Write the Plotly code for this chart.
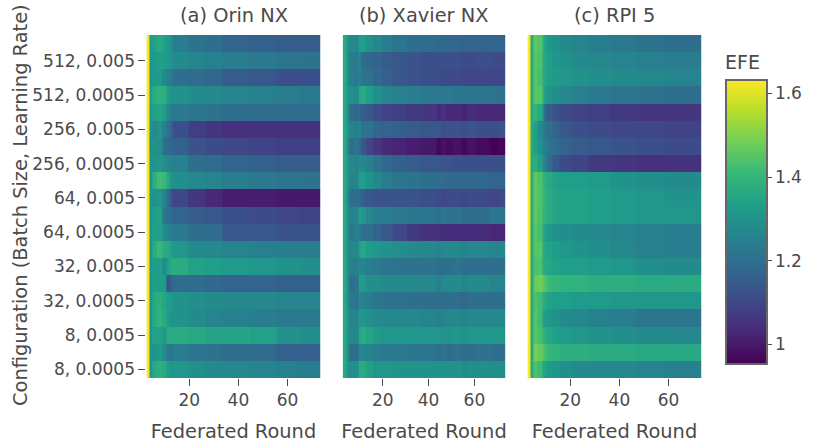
import plotly.graph_objects as go

# Rows listed top to bottom
configs = ["512, 0.01", "512, 0.005", "512, 0.001", "512, 0.0005",
           "256, 0.01", "256, 0.005", "256, 0.001", "256, 0.0005",
           "64, 0.01", "64, 0.005", "64, 0.001", "64, 0.0005",
           "32, 0.01", "32, 0.005", "32, 0.001", "32, 0.0005",
           "8, 0.01", "8, 0.005", "8, 0.001", "8, 0.0005"]
y_ticks = ["512, 0.005", "512, 0.0005", "256, 0.005", "256, 0.0005", "64, 0.005",
           "64, 0.0005", "32, 0.005", "32, 0.0005", "8, 0.005", "8, 0.0005"]
x_ticks = [20, 40, 60]
efe_ticks = [1, 1.2, 1.4, 1.6]
titles = ["(a) Orin NX", "(b) Xavier NX", "(c) RPI 5"]

# Round bin edges: columns of near-equal colour are read as one bin
orin_rounds = [2.5, 3.8, 4.8, 6.5, 9, 10.5, 11.7, 13, 19.5, 26.5, 33.5, 44.5, 55.5, 64.5, 73.5]
xavier_rounds = [2.5, 4.3, 5, 5.5, 7.5, 9.5, 10.5, 12.5, 15.5, 19.5, 24.5, 30.5, 36.5, 43.5, 45.5,
                 47.5, 50.5, 54.5, 56.5, 60.5, 66.5, 70.5, 73.5]
rpi_rounds = [2.5, 3.8, 4.8, 6.5, 8.5, 9.5, 10.5, 12.5, 15.5, 20.5, 27.5, 36.5, 46.5, 58.5, 73.5]

orin_efe = [
    [1.63, 1.32, 1.34, 1.36, 1.34, 1.32, 1.30, 1.24, 1.21, 1.20, 1.17, 1.16, 1.15, 1.15],
    [1.63, 1.31, 1.32, 1.33, 1.33, 1.32, 1.31, 1.28, 1.26, 1.25, 1.24, 1.23, 1.22, 1.21],
    [1.63, 1.30, 1.32, 1.32, 1.27, 1.25, 1.24, 1.20, 1.19, 1.18, 1.15, 1.14, 1.12, 1.12],
    [1.63, 1.33, 1.37, 1.39, 1.38, 1.33, 1.31, 1.30, 1.28, 1.27, 1.26, 1.25, 1.24, 1.23],
    [1.63, 1.32, 1.34, 1.35, 1.33, 1.27, 1.24, 1.23, 1.22, 1.21, 1.20, 1.19, 1.19, 1.19],
    [1.63, 1.30, 1.27, 1.30, 1.25, 1.22, 1.18, 1.12, 1.08, 1.06, 1.05, 1.05, 1.05, 1.05],
    [1.63, 1.28, 1.30, 1.29, 1.20, 1.18, 1.18, 1.16, 1.13, 1.11, 1.10, 1.09, 1.08, 1.08],
    [1.63, 1.30, 1.30, 1.31, 1.29, 1.27, 1.26, 1.25, 1.20, 1.19, 1.17, 1.16, 1.15, 1.15],
    [1.63, 1.31, 1.38, 1.42, 1.41, 1.36, 1.31, 1.29, 1.27, 1.26, 1.24, 1.23, 1.22, 1.21],
    [1.63, 1.30, 1.30, 1.31, 1.26, 1.20, 1.14, 1.10, 1.06, 1.03, 1.01, 1.01, 1.00, 1.00],
    [1.63, 1.31, 1.33, 1.34, 1.22, 1.20, 1.19, 1.17, 1.15, 1.14, 1.12, 1.11, 1.10, 1.09],
    [1.63, 1.31, 1.34, 1.33, 1.28, 1.26, 1.25, 1.23, 1.20, 1.19, 1.14, 1.14, 1.13, 1.13],
    [1.63, 1.31, 1.37, 1.41, 1.37, 1.36, 1.34, 1.31, 1.28, 1.27, 1.26, 1.25, 1.24, 1.24],
    [1.63, 1.31, 1.33, 1.33, 1.28, 1.33, 1.36, 1.37, 1.34, 1.33, 1.32, 1.31, 1.30, 1.29],
    [1.63, 1.31, 1.33, 1.33, 1.32, 1.13, 1.16, 1.19, 1.19, 1.18, 1.17, 1.17, 1.16, 1.16],
    [1.63, 1.31, 1.36, 1.38, 1.35, 1.33, 1.32, 1.30, 1.29, 1.28, 1.27, 1.27, 1.26, 1.26],
    [1.63, 1.31, 1.36, 1.39, 1.36, 1.33, 1.31, 1.30, 1.28, 1.26, 1.25, 1.24, 1.23, 1.23],
    [1.63, 1.31, 1.34, 1.34, 1.32, 1.37, 1.37, 1.37, 1.36, 1.35, 1.35, 1.34, 1.30, 1.29],
    [1.63, 1.30, 1.30, 1.32, 1.28, 1.23, 1.22, 1.24, 1.22, 1.21, 1.20, 1.19, 1.16, 1.16],
    [1.63, 1.31, 1.36, 1.38, 1.36, 1.33, 1.31, 1.31, 1.29, 1.28, 1.27, 1.26, 1.25, 1.24],
]

xavier_efe = [
    [1.36, 1.30, 1.28, 1.27, 1.27, 1.33, 1.33, 1.30, 1.27, 1.24, 1.22, 1.20, 1.19, 1.18, 1.18, 1.18, 1.18, 1.17, 1.17, 1.17, 1.17, 1.17],
    [1.36, 1.29, 1.25, 1.24, 1.23, 1.27, 1.19, 1.18, 1.17, 1.15, 1.14, 1.13, 1.12, 1.12, 1.12, 1.12, 1.12, 1.11, 1.11, 1.12, 1.11, 1.11],
    [1.36, 1.29, 1.26, 1.24, 1.23, 1.26, 1.22, 1.21, 1.18, 1.16, 1.14, 1.13, 1.12, 1.12, 1.11, 1.11, 1.11, 1.10, 1.10, 1.10, 1.10, 1.10],
    [1.36, 1.31, 1.29, 1.29, 1.28, 1.36, 1.37, 1.33, 1.29, 1.26, 1.25, 1.24, 1.23, 1.23, 1.23, 1.23, 1.22, 1.22, 1.22, 1.22, 1.21, 1.21],
    [1.36, 1.29, 1.25, 1.19, 1.18, 1.19, 1.15, 1.14, 1.11, 1.09, 1.08, 1.07, 1.06, 1.03, 1.05, 1.03, 1.03, 1.02, 1.04, 1.03, 1.03, 1.03],
    [1.36, 1.30, 1.27, 1.26, 1.25, 1.27, 1.22, 1.21, 1.18, 1.17, 1.16, 1.15, 1.14, 1.14, 1.12, 1.13, 1.13, 1.12, 1.13, 1.12, 1.12, 1.13],
    [1.36, 1.28, 1.24, 1.19, 1.22, 1.20, 1.14, 1.10, 1.06, 1.03, 1.02, 1.01, 1.00, 0.965, 0.985, 0.975, 0.985, 0.965, 0.985, 0.975, 0.955, 0.965],
    [1.36, 1.31, 1.27, 1.27, 1.26, 1.29, 1.27, 1.25, 1.21, 1.18, 1.16, 1.15, 1.14, 1.14, 1.13, 1.13, 1.12, 1.12, 1.12, 1.12, 1.12, 1.12],
    [1.36, 1.30, 1.27, 1.26, 1.26, 1.34, 1.33, 1.30, 1.27, 1.24, 1.22, 1.21, 1.20, 1.19, 1.19, 1.18, 1.18, 1.18, 1.18, 1.18, 1.17, 1.17],
    [1.36, 1.28, 1.24, 1.20, 1.20, 1.19, 1.16, 1.14, 1.13, 1.13, 1.13, 1.13, 1.12, 1.11, 1.10, 1.11, 1.11, 1.10, 1.11, 1.11, 1.10, 1.11],
    [1.36, 1.30, 1.26, 1.26, 1.26, 1.34, 1.31, 1.27, 1.24, 1.24, 1.23, 1.22, 1.22, 1.20, 1.23, 1.21, 1.21, 1.19, 1.20, 1.20, 1.22, 1.21],
    [1.36, 1.29, 1.24, 1.22, 1.25, 1.24, 1.20, 1.20, 1.17, 1.14, 1.10, 1.07, 1.05, 1.05, 1.04, 1.04, 1.04, 1.04, 1.04, 1.04, 1.03, 1.03],
    [1.36, 1.29, 1.26, 1.27, 1.27, 1.34, 1.36, 1.33, 1.31, 1.30, 1.29, 1.28, 1.27, 1.26, 1.27, 1.28, 1.27, 1.26, 1.27, 1.27, 1.26, 1.27],
    [1.36, 1.29, 1.25, 1.25, 1.24, 1.27, 1.26, 1.24, 1.23, 1.22, 1.21, 1.21, 1.21, 1.20, 1.20, 1.20, 1.21, 1.20, 1.20, 1.20, 1.20, 1.20],
    [1.36, 1.29, 1.25, 1.20, 1.22, 1.33, 1.32, 1.29, 1.29, 1.28, 1.28, 1.27, 1.27, 1.24, 1.27, 1.28, 1.28, 1.26, 1.28, 1.28, 1.26, 1.26],
    [1.36, 1.29, 1.25, 1.23, 1.22, 1.27, 1.25, 1.24, 1.22, 1.21, 1.21, 1.20, 1.20, 1.20, 1.20, 1.20, 1.19, 1.18, 1.20, 1.20, 1.20, 1.20],
    [1.36, 1.30, 1.27, 1.26, 1.26, 1.33, 1.31, 1.29, 1.28, 1.27, 1.27, 1.27, 1.26, 1.25, 1.26, 1.27, 1.27, 1.26, 1.27, 1.27, 1.27, 1.27],
    [1.36, 1.30, 1.27, 1.27, 1.27, 1.35, 1.37, 1.35, 1.32, 1.31, 1.31, 1.31, 1.31, 1.31, 1.30, 1.30, 1.31, 1.30, 1.31, 1.31, 1.31, 1.31],
    [1.36, 1.29, 1.25, 1.20, 1.20, 1.27, 1.27, 1.26, 1.24, 1.23, 1.23, 1.22, 1.22, 1.19, 1.21, 1.19, 1.21, 1.20, 1.20, 1.21, 1.20, 1.19],
    [1.36, 1.30, 1.28, 1.29, 1.29, 1.37, 1.37, 1.34, 1.31, 1.31, 1.30, 1.30, 1.30, 1.30, 1.30, 1.30, 1.30, 1.28, 1.29, 1.29, 1.29, 1.29],
]

rpi_efe = [
    [1.63, 1.36, 1.46, 1.45, 1.38, 1.34, 1.31, 1.30, 1.28, 1.26, 1.24, 1.23, 1.21, 1.20],
    [1.63, 1.36, 1.45, 1.44, 1.37, 1.35, 1.33, 1.31, 1.30, 1.28, 1.27, 1.26, 1.25, 1.24],
    [1.63, 1.36, 1.45, 1.43, 1.37, 1.35, 1.33, 1.32, 1.31, 1.30, 1.29, 1.28, 1.27, 1.26],
    [1.63, 1.36, 1.45, 1.45, 1.38, 1.32, 1.30, 1.29, 1.27, 1.25, 1.23, 1.22, 1.21, 1.20],
    [1.63, 1.36, 1.40, 1.36, 1.28, 1.17, 1.15, 1.13, 1.11, 1.09, 1.08, 1.07, 1.06, 1.06],
    [1.63, 1.36, 1.34, 1.28, 1.25, 1.22, 1.20, 1.17, 1.14, 1.12, 1.11, 1.10, 1.10, 1.09],
    [1.63, 1.36, 1.34, 1.30, 1.25, 1.24, 1.21, 1.19, 1.17, 1.15, 1.14, 1.13, 1.12, 1.11],
    [1.63, 1.36, 1.38, 1.34, 1.28, 1.24, 1.19, 1.14, 1.11, 1.09, 1.07, 1.06, 1.05, 1.05],
    [1.63, 1.36, 1.46, 1.44, 1.40, 1.38, 1.36, 1.34, 1.33, 1.33, 1.32, 1.30, 1.29, 1.28],
    [1.63, 1.36, 1.46, 1.44, 1.41, 1.39, 1.37, 1.35, 1.34, 1.34, 1.33, 1.32, 1.31, 1.30],
    [1.63, 1.36, 1.46, 1.44, 1.40, 1.39, 1.37, 1.35, 1.34, 1.34, 1.33, 1.32, 1.31, 1.31],
    [1.63, 1.36, 1.45, 1.43, 1.36, 1.33, 1.31, 1.30, 1.29, 1.28, 1.27, 1.26, 1.25, 1.24],
    [1.63, 1.36, 1.45, 1.45, 1.37, 1.35, 1.34, 1.33, 1.31, 1.30, 1.29, 1.27, 1.25, 1.24],
    [1.63, 1.36, 1.44, 1.44, 1.37, 1.36, 1.35, 1.34, 1.33, 1.33, 1.32, 1.31, 1.29, 1.28],
    [1.63, 1.36, 1.47, 1.48, 1.46, 1.44, 1.41, 1.40, 1.39, 1.39, 1.38, 1.38, 1.37, 1.37],
    [1.63, 1.36, 1.44, 1.42, 1.38, 1.36, 1.34, 1.33, 1.33, 1.32, 1.32, 1.31, 1.31, 1.31],
    [1.63, 1.36, 1.45, 1.42, 1.34, 1.33, 1.31, 1.30, 1.28, 1.27, 1.25, 1.24, 1.22, 1.22],
    [1.63, 1.36, 1.45, 1.43, 1.39, 1.37, 1.35, 1.33, 1.32, 1.31, 1.30, 1.29, 1.28, 1.27],
    [1.63, 1.36, 1.49, 1.47, 1.45, 1.42, 1.40, 1.39, 1.38, 1.38, 1.37, 1.37, 1.36, 1.36],
    [1.63, 1.36, 1.44, 1.42, 1.35, 1.34, 1.32, 1.31, 1.29, 1.28, 1.27, 1.27, 1.26, 1.25],
]

W, H = 830, 443
INK = "#4a4a4a"
TOP, BOTTOM = 35, 378
panels = [(146.4, 320.6, orin_rounds, orin_efe),
          (342.7, 505.3, xavier_rounds, xavier_efe),
          (527.4, 701.6, rpi_rounds, rpi_efe)]

fig = go.Figure()
layout_axes = {}
annotations = []
for i, (left, right, rounds, efe) in enumerate(panels):
    n = "" if i == 0 else str(i + 1)
    fig.add_trace(go.Heatmap(x=rounds, y=configs, z=efe, coloraxis="coloraxis",
                             xaxis=f"x{n}", yaxis=f"y{n}"))
    layout_axes[f"xaxis{n}"] = dict(
        domain=[left / W, right / W], range=[2.5, 73.5], anchor=f"y{n}",
        tickmode="array", tickvals=x_ticks, ticks="outside", ticklen=7, tickwidth=1,
        tickcolor=INK, showgrid=False, zeroline=False, showline=False,
        tickfont=dict(size=17, color=INK),
        title=dict(text="Federated Round", font=dict(size=19.4, color=INK), standoff=16),
    )
    y_axis = dict(
        domain=[1 - BOTTOM / H, 1 - TOP / H], anchor=f"x{n}", type="category",
        categoryorder="array", categoryarray=configs, autorange="reversed",
        showgrid=False, zeroline=False, showline=False,
    )
    if i == 0:
        y_axis.update(tickmode="array", tickvals=y_ticks, ticktext=y_ticks, ticks="outside",
                      ticklen=7, tickwidth=1, tickcolor=INK,
                      tickfont=dict(size=17, color=INK))
    else:
        y_axis.update(showticklabels=False, ticks="")
    layout_axes[f"yaxis{n}"] = y_axis
    annotations.append(dict(text=titles[i], x=(left + right) / 2 / W, y=1 - 15 / H,
                            xref="paper", yref="paper", showarrow=False,
                            xanchor="center", yanchor="middle",
                            font=dict(size=19.4, color=INK)))

annotations.append(dict(text="Configuration (Batch Size, Learning Rate)",
                        x=20 / W, y=1 - 205 / H,
                        xref="paper", yref="paper", showarrow=False, textangle=-90,
                        xanchor="center", yanchor="middle", font=dict(size=19.4, color=INK)))

fig.update_layout(
    width=W, height=H, margin=dict(l=0, r=0, t=0, b=0),
    paper_bgcolor="white", plot_bgcolor="white",
    font=dict(family="DejaVu Sans", color=INK),
    annotations=annotations,
    coloraxis=dict(
        colorscale="Viridis", cmin=0.953, cmax=1.632,
        colorbar=dict(
            x=726 / W, xanchor="left", xpad=0, y=1 - 53 / H, yanchor="top", ypad=0,
            lenmode="pixels", len=311, thicknessmode="pixels", thickness=41,
            outlinewidth=2, outlinecolor="#666666",
            tickmode="array", tickvals=efe_ticks, ticktext=["1", "1.2", "1.4", "1.6"],
            ticks="outside", ticklen=4, tickcolor=INK,
            tickfont=dict(size=17, color=INK),
            title=dict(text="EFE", side="top", font=dict(size=19, color=INK)),
        ),
    ),
    **layout_axes,
)
# Remove the page's default 8 px body margin so the figure fills the window
fig.write_html("out.html", config=dict(displayModeBar=False),
               post_script="document.body.style.margin='0';document.body.style.overflow='hidden';")
